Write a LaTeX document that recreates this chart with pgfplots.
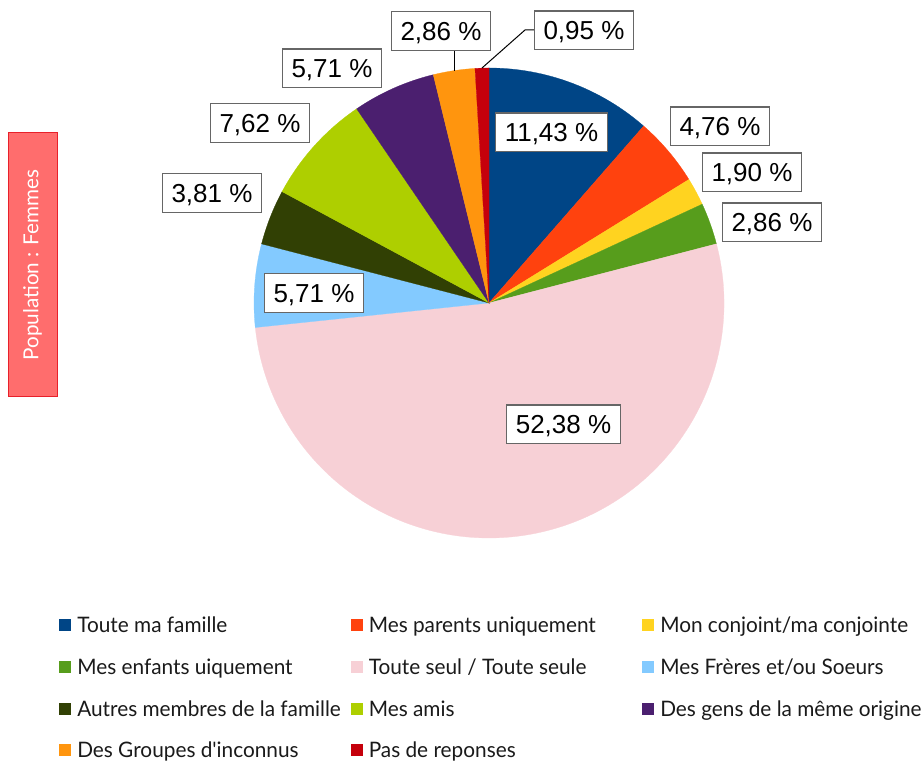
\documentclass[border=0pt]{standalone}
\usepackage{fontspec}
\setmainfont{Liberation Sans}
\newfontfamily\latofont{Lato}
\newfontfamily\latoleg{Lato}[FakeStretch=0.975]
\usepackage{pgfplots}
\usepackage{pgfplotstable}
\pgfplotsset{compat=1.18}

\definecolor{sc0}{HTML}{004586}
\definecolor{sc1}{HTML}{FF420E}
\definecolor{sc2}{HTML}{FFD320}
\definecolor{sc3}{HTML}{579D1C}
\definecolor{sc4}{HTML}{F7D0D6}
\definecolor{sc5}{HTML}{83CAFF}
\definecolor{sc6}{HTML}{314004}
\definecolor{sc7}{HTML}{AECF00}
\definecolor{sc8}{HTML}{4B1F6F}
\definecolor{sc9}{HTML}{FF950E}
\definecolor{sc10}{HTML}{C5000B}
\definecolor{boxfill}{HTML}{FF6D6D}
\definecolor{boxline}{HTML}{E8202A}
\definecolor{lblline}{HTML}{666666}
\definecolor{legtext}{HTML}{1A1A1A}

\tikzset{
  lbl/.style={draw=lblline,line width=1pt,fill=white,
    font=\fontsize{19.5}{20}\selectfont,inner xsep=7pt,inner ysep=0pt,
    text height=14pt,text depth=0pt,minimum height=29pt},
  leg/.style={font=\latoleg\fontsize{16}{18}\selectfont,text=legtext,
    anchor=base west,inner sep=0pt}}

% share of each answer, label centre (pixels from top left)
\pgfplotstableread[col sep=comma]{
name,val,lx,ly
Toute ma famille,11.43,551.5,132.5
Mes parents uniquement,4.76,720,126.5
Mon conjoint/ma conjointe,1.90,752,172.5
Mes enfants uiquement,2.86,772,222.5
Toute seul / Toute seule,52.38,563.5,424.5
Mes Frères et/ou Soeurs,5.71,314,293
Autres membres de la famille,3.81,212,193
Mes amis,7.62,260,123
Des gens de la même origine,5.71,332,68.5
Des Groupes d'inconnus,2.86,441,31
Pas de reponses,0.95,584,30.5
}\pietable

\begin{document}
\begin{tikzpicture}
\gdef\total{0}
\pgfplotstableforeachcolumnelement{val}\of\pietable\as\cell{%
  \pgfmathsetmacro\t{\total+\cell}\xdef\total{\t}}
\gdef\cum{0}
\begin{axis}[
  width=693pt,height=570.75pt,scale only axis,
  xmin=0,xmax=924,ymin=0,ymax=761,
  hide axis,clip=false,
  /pgf/number format/assume math mode=true]

% slices, clockwise from 12 o'clock
\pgfplotsinvokeforeach{0,...,10}{%
  \pgfplotstablegetelem{#1}{val}\of\pietable \let\v\pgfplotsretval
  \pgfmathsetmacro\angA{90-360*(\cum/\total)}%
  \pgfmathsetmacro\newcum{\cum+\v}\xdef\cum{\newcum}%
  \pgfmathsetmacro\angB{90-360*(\cum/\total)}%
  \edef\tmp{\noexpand\fill[sc#1,draw=sc#1,line width=0.2pt] (axis cs:489,458)
    -- ++(\angA:176.25pt) arc[start angle=\angA,end angle=\angB,radius=176.25pt]
    -- cycle;}\tmp
}

% leader lines
\draw[line width=0.75pt] (axis cs:454,711) -- (axis cs:454,690);
\draw[line width=0.75pt] (axis cs:534,731) -- (axis cs:525,731) -- (axis cs:482,693);

% value labels and legend
\pgfplotsinvokeforeach{0,...,10}{%
  \pgfplotstablegetelem{#1}{val}\of\pietable \let\v\pgfplotsretval
  \pgfplotstablegetelem{#1}{lx}\of\pietable \let\lx\pgfplotsretval
  \pgfplotstablegetelem{#1}{ly}\of\pietable \let\ly\pgfplotsretval
  \pgfplotstablegetelem{#1}{name}\of\pietable \let\nm\pgfplotsretval
  \pgfmathsetmacro\col{mod(#1,3)}%
  \pgfmathsetmacro\row{floor(#1/3)}%
  \pgfmathsetmacro\sx{65+291.5*\col}%
  \pgfmathsetmacro\sy{761-625-41.8*\row}%
  \pgfmathsetmacro\tx{77+291.5*\col}%
  \pgfmathsetmacro\ty{761-632.5-41.8*\row}%
  \pgfmathsetmacro\lyy{761-\ly}%
  \edef\tmp{%
    \noexpand\node[lbl] at (axis cs:\lx,\lyy)
      {\noexpand\pgfmathprintnumber[fixed,fixed zerofill,precision=2,use comma]{\v}\noexpand~\noexpand\%};
    \noexpand\fill[sc#1] (axis cs:\sx,\sy) ++(-4.5pt,-4.5pt) rectangle ++(9pt,9pt);
    \noexpand\node[leg] at (axis cs:\tx,\ty) {\nm};
  }\tmp
}

% population tag
\draw[boxline,fill=boxfill,line width=0.75pt] (axis cs:8,364) rectangle (axis cs:57,628);
\node[rotate=90,text=white,font=\latofont\fontsize{15.5}{18}\selectfont]
  at (axis cs:32.5,496) {Population : Femmes};
\end{axis}
\pgfresetboundingbox
\path (current axis.south west) rectangle (current axis.north east);
\end{tikzpicture}
\end{document}
